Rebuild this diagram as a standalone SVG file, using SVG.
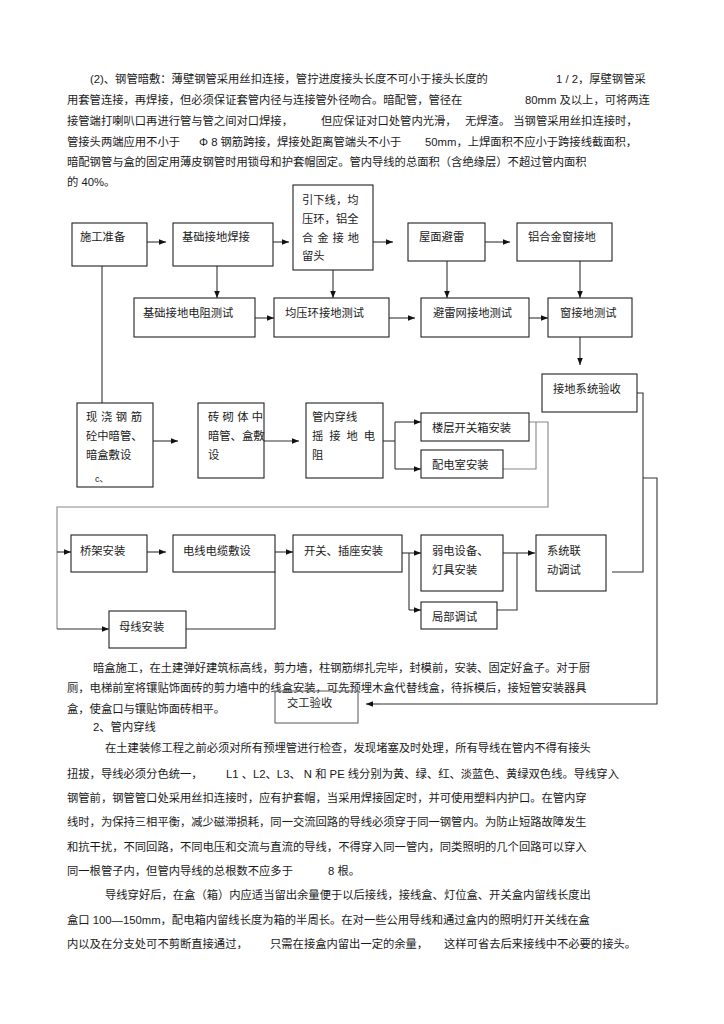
<svg xmlns="http://www.w3.org/2000/svg" width="724" height="1024" viewBox="0 0 724 1024">
<style>
.t{font-family:"Liberation Sans","Noto Sans CJK SC",sans-serif;font-size:11.3px;fill:#1a1a1a}
.box{fill:#fff;stroke:#222;stroke-width:1.1}
.c{fill:none;stroke:#333;stroke-width:1.1}
.g{fill:none;stroke:#888;stroke-width:1.1}
</style>
<defs>
<marker id="ah" viewBox="0 0 10 10" refX="10" refY="5" markerWidth="7" markerHeight="7" markerUnits="userSpaceOnUse" orient="auto"><path d="M0,1 L10,5 L0,9 z" fill="#111"/></marker>
</defs>
<rect width="724" height="1024" fill="#fff"/>

<g id="para-top" class="t">
<text x="90" y="83">(2)、钢管暗敷：薄壁钢管采用丝扣连接，管拧进度接头长度不可小于接头长度的</text>
<text x="556" y="83">1 / 2，厚壁钢管采</text>
<text x="67" y="104">用套管连接，再焊接，但必须保证套管内径与连接管外径吻合。暗配管，管径在</text>
<text x="525" y="104">80mm 及以上，可将两连</text>
<text x="67" y="125">接管端打喇叭口再进行管与管之间对口焊接，</text>
<text x="321" y="125">但应保证对口处管内光滑，</text>
<text x="465" y="125">无焊渣。 当钢管采用丝扣连接时，</text>
<text x="67" y="146">管接头两端应用不小于</text>
<text x="199" y="146">Φ 8 钢筋跨接，焊接处距离管端头不小于</text>
<text x="425" y="146">50mm，上焊面积不应小于跨接线截面积，</text>
<text x="67" y="166">暗配钢管与盒的固定用薄皮钢管时用锁母和护套帽固定。管内导线的总面积（含绝缘层）不超过管内面积</text>
<text x="67" y="186">的 40%。</text>
</g>

<g id="connectors">
<line class="c" x1="147" y1="242" x2="166" y2="242" marker-end="url(#ah)"/>
<line class="c" x1="273" y1="242" x2="289" y2="242" marker-end="url(#ah)"/>
<line class="c" x1="373" y1="242" x2="393" y2="242" marker-end="url(#ah)"/>
<line class="c" x1="485" y1="242" x2="510" y2="242" marker-end="url(#ah)"/>
<line class="c" x1="102" y1="266" x2="102" y2="403"/>
<line class="c" x1="217" y1="266" x2="217" y2="298" marker-end="url(#ah)"/>
<line class="c" x1="333" y1="270" x2="333" y2="298" marker-end="url(#ah)"/>
<line class="c" x1="447" y1="261" x2="447" y2="298" marker-end="url(#ah)"/>
<line class="c" x1="580" y1="261" x2="580" y2="298" marker-end="url(#ah)"/>
<line class="c" x1="255" y1="318" x2="274" y2="318" marker-end="url(#ah)"/>
<line class="c" x1="389" y1="318" x2="415" y2="318" marker-end="url(#ah)"/>
<line class="c" x1="529" y1="318" x2="548" y2="318" marker-end="url(#ah)"/>
<line class="c" x1="580" y1="337" x2="580" y2="365" marker-end="url(#ah)"/>
<line class="c" x1="153" y1="441" x2="178" y2="441" marker-end="url(#ah)"/>
<line class="c" x1="264" y1="441" x2="299" y2="441" marker-end="url(#ah)"/>
<polyline class="c" points="383,441 395,441"/>
<polyline class="c" points="395,422 395,469"/>
<line class="c" x1="395" y1="422" x2="421" y2="422" marker-end="url(#ah)"/>
<line class="c" x1="395" y1="469" x2="421" y2="469" marker-end="url(#ah)"/>
<polyline class="g" points="529,422 548,422 548,507 57,507 57,629"/>
<line class="c" x1="57" y1="629" x2="109" y2="629" marker-end="url(#ah)"/>
<line class="c" x1="57" y1="552" x2="71" y2="552" marker-end="url(#ah)"/>
<polyline class="g" points="503,469 536,469 536,422"/>
<line class="c" x1="147" y1="552" x2="166" y2="552" marker-end="url(#ah)"/>
<line class="c" x1="275" y1="552" x2="293" y2="552" marker-end="url(#ah)"/>
<polyline class="c" points="186,629 275,629 275,572"/>
<polyline class="c" points="402,553 409,553"/>
<polyline class="c" points="409,553 409,610"/>
<line class="c" x1="409" y1="553" x2="421" y2="553" marker-end="url(#ah)"/>
<line class="c" x1="409" y1="610" x2="421" y2="610" marker-end="url(#ah)"/>
<line class="c" x1="503" y1="553" x2="535" y2="553" marker-end="url(#ah)"/>
<polyline class="c" points="517,553 517,610 497,610"/>
<polyline class="c" points="612,572 643,572 643,393 637,393"/>
<polyline class="c" points="643,478 657,478 657,704 380,704"/>
<line class="c" x1="380" y1="704" x2="366" y2="704" marker-end="url(#ah)"/>
</g>

<g id="n-shigong"><rect class="box" x="72" y="223" width="75" height="43"/><text class="t" x="80" y="241">施工准备</text></g>
<g id="n-jichu"><rect class="box" x="173" y="223" width="100" height="43"/><text class="t" x="182" y="241">基础接地焊接</text></g>
<g id="n-yinxia"><rect class="box" x="293" y="185" width="80" height="85"/>
<text class="t" x="302" y="204">引下线，均</text>
<text class="t" x="302" y="223">压环，铝全</text>
<text class="t" x="302" y="242" textLength="57" lengthAdjust="spacing">合金接地</text>
<text class="t" x="302" y="260">留头</text></g>
<g id="n-wumian"><rect class="box" x="408" y="223" width="77" height="38"/><text class="t" x="419" y="241">屋面避雷</text></g>
<g id="n-lvhejin"><rect class="box" x="517" y="223" width="95" height="38"/><text class="t" x="528" y="241">铝合金窗接地</text></g>

<g id="n-jcdz"><rect class="box" x="134" y="298" width="121" height="39"/><text class="t" x="143" y="317">基础接地电阻测试</text></g>
<g id="n-jyh"><rect class="box" x="274" y="298" width="115" height="39"/><text class="t" x="285" y="317">均压环接地测试</text></g>
<g id="n-blw"><rect class="box" x="421" y="298" width="108" height="39"/><text class="t" x="433" y="317">避雷网接地测试</text></g>
<g id="n-chuang"><rect class="box" x="548" y="298" width="84" height="39"/><text class="t" x="560" y="317">窗接地测试</text></g>
<g id="n-ysys"><rect class="box" x="542" y="374" width="95" height="38"/><text class="t" x="553" y="393">接地系统验收</text></g>

<g id="n-xianjiao"><rect class="box" x="77" y="403" width="76" height="84"/>
<text class="t" x="86" y="421" textLength="56" lengthAdjust="spacing">现浇钢筋</text>
<text class="t" x="86" y="440">砼中暗管、</text>
<text class="t" x="86" y="459">暗盒敷设</text>
<text class="t" x="95" y="482" style="font-size:9px">c、</text></g>
<g id="n-zhuanqi"><rect class="box" x="198" y="403" width="66" height="75"/>
<text class="t" x="208" y="421" textLength="55" lengthAdjust="spacing">砖砌体中</text>
<text class="t" x="208" y="440">暗管、盒敷</text>
<text class="t" x="208" y="459">设</text></g>
<g id="n-guannei"><rect class="box" x="306" y="403" width="77" height="75"/>
<text class="t" x="312" y="421">管内穿线</text>
<text class="t" x="312" y="440" textLength="63" lengthAdjust="spacing">摇接地电</text>
<text class="t" x="312" y="459">阻</text></g>
<g id="n-louceng"><rect class="box" x="421" y="413" width="108" height="28"/><text class="t" x="432" y="432">楼层开关箱安装</text></g>
<g id="n-peidian"><rect class="box" x="421" y="450" width="82" height="28"/><text class="t" x="432" y="469">配电室安装</text></g>

<g id="n-qiaojia"><rect class="box" x="71" y="535" width="76" height="37"/><text class="t" x="80" y="555">桥架安装</text></g>
<g id="n-dianxian"><rect class="box" x="173" y="535" width="102" height="37"/><text class="t" x="183" y="555">电线电缆敷设</text></g>
<g id="n-kaiguan"><rect class="box" x="293" y="535" width="109" height="37"/><text class="t" x="304" y="555">开关、插座安装</text></g>
<g id="n-ruodian"><rect class="box" x="421" y="535" width="82" height="56"/>
<text class="t" x="432" y="555">弱电设备、</text>
<text class="t" x="432" y="574">灯具安装</text></g>
<g id="n-jubu"><rect class="box" x="421" y="602" width="76" height="27"/><text class="t" x="432" y="621">局部调试</text></g>
<g id="n-xitong"><rect class="box" x="536" y="535" width="70" height="56"/>
<text class="t" x="547" y="555">系统联</text>
<text class="t" x="547" y="574">动调试</text></g>
<g id="n-muxian"><rect class="box" x="109" y="611" width="77" height="37"/><text class="t" x="119" y="631">母线安装</text></g>

<g id="para-bottom" class="t">
<text x="93" y="672">暗盒施工，在土建弹好建筑标高线，剪力墙，柱钢筋绑扎完毕，封模前，安装、固定好盒子。对于厨</text>
<text x="67" y="692">厕，电梯前室将镶贴饰面砖的剪力墙中的线盒安装，可先预埋木盒代替线盒，待拆模后，接短管安装器具</text>
<text x="67" y="713">盒，使盒口与镶贴饰面砖相平。</text>
<text x="93" y="731">2、管内穿线</text>
<text x="105" y="752">在土建装修工程之前必须对所有预埋管进行检查，发现堵塞及时处理，所有导线在管内不得有接头</text>
<text x="67" y="778">扭拔，导线必须分色统一，</text>
<text x="226" y="778">L1 、L2、L3、 N 和 PE 线分别为黄、绿、红、淡蓝色、黄绿双色线。导线穿入</text>
<text x="67" y="802">钢管前，钢管管口处采用丝扣连接时，应有护套帽，当采用焊接固定时，并可使用塑料内护口。在管内穿</text>
<text x="67" y="826">线时，为保持三相平衡，减少磁滞损耗，同一交流回路的导线必须穿于同一钢管内。为防止短路故障发生</text>
<text x="67" y="851">和抗干扰，不同回路，不同电压和交流与直流的导线，不得穿入同一管内，同类照明的几个回路可以穿入</text>
<text x="67" y="875">同一根管子内，但管内导线的总根数不应多于</text>
<text x="328" y="875">8 根。</text>
<text x="105" y="899">导线穿好后，在盒（箱）内应适当留出余量便于以后接线，接线盒、灯位盒、开关盒内留线长度出</text>
<text x="67" y="924">盒口  100—150mm，配电箱内留线长度为箱的半周长。在对一些公用导线和通过盒内的照明灯开关线在盒</text>
<text x="67" y="948">内以及在分支处可不剪断直接通过，</text>
<text x="270" y="948">只需在接盒内留出一定的余量，</text>
<text x="444" y="948">这样可省去后来接线中不必要的接头。</text>
</g>

<g id="n-jiaogong"><rect x="275" y="691" width="83" height="32" fill="none" stroke="#666" stroke-width="1.1"/><text class="t" x="287" y="707">交工验收</text></g>
</svg>
